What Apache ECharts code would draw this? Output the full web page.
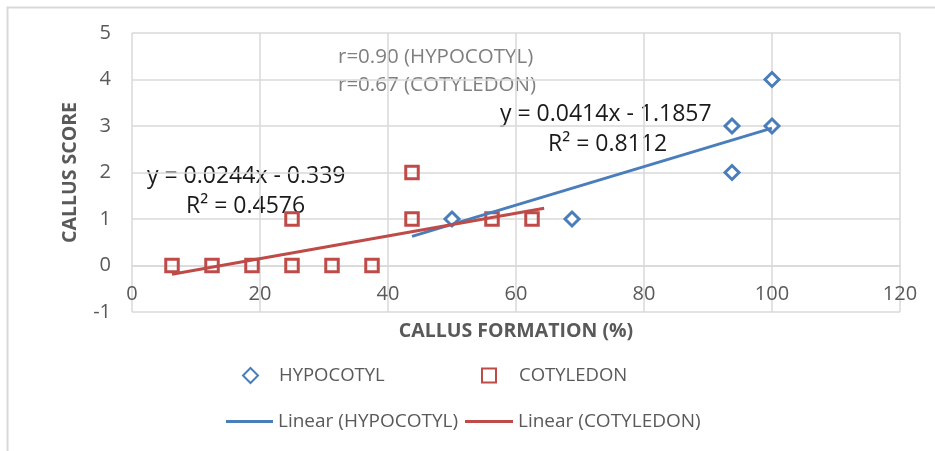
<!DOCTYPE html>
<html>
<head>
<meta charset="utf-8">
<script src="https://cdn.jsdelivr.net/npm/echarts@6/dist/echarts.min.js"></script>
<style>
html,body{margin:0;padding:0;background:#fff;}
#chart{width:935px;height:451px;}
</style>
</head>
<body>
<div id="chart"></div>
<script>
// ---- data ----
var hypocotylX = [50, 68.75, 93.75, 93.75, 100, 100];
var hypocotylY = [1, 1, 3, 2, 4, 3];
var cotyledonX = [6.25, 12.5, 18.75, 25, 25, 31.25, 37.5, 43.75, 43.75, 56.25, 62.5];
var cotyledonY = [0, 0, 0, 0, 1, 0, 0, 1, 2, 1, 1];
var hypoTrend = {slope: 0.0414, intercept: -1.1857};
var cotyTrend = {slope: 0.0244, intercept: -0.339};
var hypoTrendRange = [43.75, 100];
var cotyTrendRange = [6.25, 64.4];
var xTicks = [0, 20, 40, 60, 80, 100, 120];
var yTicks = [-1, 0, 1, 2, 3, 4, 5];
var annotations = ['r=0.90 (HYPOCOTYL)', 'r=0.67 (COTYLEDON)'];
var hypoEqText = ['y = 0.0414x - 1.1857', 'R\u00b2 = 0.8112'];
var cotyEqText = ['y = 0.0244x - 0.339', 'R\u00b2 = 0.4576'];

function zip(xs, ys){ return xs.map(function(x,i){ return [x, ys[i]]; }); }
function trend(t, range){ return range.map(function(x){ return [x, t.slope*x + t.intercept]; }); }

var FONT = '"Open Sans", Lato, sans-serif';
var BLUE = '#4a7ebb', RED = '#be4b48', GRID = '#d9d9d9', TXT = '#595959';

var chart = echarts.init(document.getElementById('chart'));
chart.setOption({
  animation: false,
  textStyle: {fontFamily: FONT},
  grid: {left: 132, right: 35, top: 33, bottom: 139},
  xAxis: {
    type: 'value', min: xTicks[0], max: xTicks[xTicks.length-1], interval: 20,
    offset: -46.5,
    axisLine: {show: true, onZero: false, lineStyle: {color: GRID, width: 1.5}},
    axisTick: {show: false},
    splitLine: {show: true, lineStyle: {color: GRID, width: 1.5}},
    axisLabel: {color: TXT, fontSize: 20, margin: 19, fontFamily: FONT},
    name: 'CALLUS FORMATION (%)', nameLocation: 'middle', nameGap: 56,
    nameTextStyle: {color: TXT, fontSize: 19.5, fontWeight: 'bold', fontFamily: FONT}
  },
  yAxis: {
    type: 'value', min: yTicks[0], max: yTicks[yTicks.length-1], interval: 1,
    axisLine: {show: false},
    axisTick: {show: false},
    splitLine: {show: true, lineStyle: {color: GRID, width: 1.5}},
    axisLabel: {color: TXT, fontSize: 20, margin: 21, fontFamily: FONT},
    name: 'CALLUS SCORE', nameLocation: 'middle', nameGap: 52, nameRotate: 90,
    nameTextStyle: {color: TXT, fontSize: 19.5, fontWeight: 'bold', fontFamily: FONT}
  },
  legend: [
    {data: ['HYPOCOTYL'], left: 242, top: 366, padding: 0, itemWidth: 15, itemHeight: 15,
     textStyle: {color: TXT, fontSize: 18.5, padding: [0,0,0,16], fontFamily: FONT}},
    {data: ['COTYLEDON'], left: 481, top: 366, padding: 0, itemWidth: 14, itemHeight: 14,
     textStyle: {color: TXT, fontSize: 18.5, padding: [0,0,0,18], fontFamily: FONT}},
    {data: [{name: 'Linear (HYPOCOTYL)', icon: 'rect'}], left: 226, top: 412, padding: 0, itemWidth: 47, itemHeight: 3,
     textStyle: {color: TXT, fontSize: 19, fontFamily: FONT}},
    {data: [{name: 'Linear (COTYLEDON)', icon: 'rect'}], left: 465, top: 412, padding: 0, itemWidth: 48, itemHeight: 3,
     textStyle: {color: TXT, fontSize: 19, fontFamily: FONT}}
  ],
  series: [
    {name: 'HYPOCOTYL', type: 'scatter', symbol: 'diamond', symbolSize: 14,
     itemStyle: {color: '#fff', borderColor: BLUE, borderWidth: 3, opacity: 1},
     data: zip(hypocotylX, hypocotylY), z: 3},
    {name: 'COTYLEDON', type: 'scatter', symbol: 'rect', symbolSize: 12.5,
     itemStyle: {color: 'rgba(255,255,255,0)', borderColor: RED, borderWidth: 3, opacity: 1},
     data: zip(cotyledonX, cotyledonY), z: 3},
    {name: 'Linear (HYPOCOTYL)', type: 'line', showSymbol: false, symbol: 'none',
     color: BLUE, lineStyle: {color: BLUE, width: 3},
     data: trend(hypoTrend, hypoTrendRange), z: 4},
    {name: 'Linear (COTYLEDON)', type: 'line', showSymbol: false, symbol: 'none',
     color: RED, lineStyle: {color: RED, width: 3},
     data: trend(cotyTrend, cotyTrendRange), z: 4}
  ],
  graphic: [
    {type: 'rect', left: 5, top: 5, shape: {width: 935, height: 460}, silent: true,
     style: {fill: 'none', stroke: GRID, lineWidth: 2}, z: -1},
    {type: 'text', left: 338, top: 47, style: {text: annotations[0], fill: '#7f7f7f', font: '20.5px ' + FONT}},
    {type: 'text', left: 338, top: 75, style: {text: annotations[1], fill: '#7f7f7f', font: '20.5px ' + FONT}},
    {type: 'text', left: 500, top: 103, style: {text: hypoEqText[0], fill: '#1a1a1a', font: '23px ' + FONT}},
    {type: 'text', left: 548, top: 133, style: {text: hypoEqText[1], fill: '#1a1a1a', font: '23px ' + FONT}},
    {type: 'text', left: 147, top: 165, style: {text: cotyEqText[0], fill: '#1a1a1a', font: '23px ' + FONT}},
    {type: 'text', left: 186, top: 195, style: {text: cotyEqText[1], fill: '#1a1a1a', font: '23px ' + FONT}}
  ]
});
</script>
</body>
</html>
